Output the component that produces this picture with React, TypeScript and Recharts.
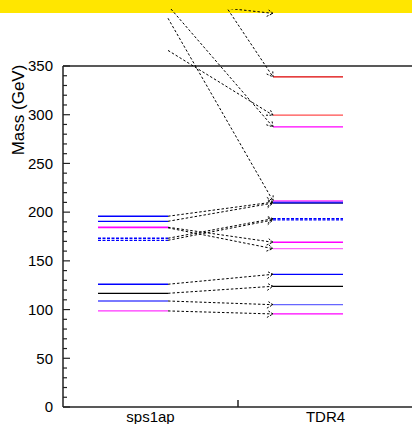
import React from 'react';
import { LineChart, Line, XAxis, YAxis, ReferenceLine } from 'recharts';

// columnas y ticks
const columns = ['sps1ap', 'TDR4'];
const massLabels = [0, 50, 100, 150, 200, 250, 300, 350];
const minorStep = 10;

// niveles del espectro, mismo indice = misma particula (flecha sps1ap -> TDR4)
const sps1apMasses = [98.6, 108.8, 116.7, 126.0, 171.1, 173.2, 183.9, 184.5, 190.6, 195.8, 366, 399, 412, 416, 500];
const sps1apColors = ['#ff33ff', '#4d4dff', '#000000', '#0000ff', '#0000ff', '#0000ff', '#ff80ff', '#ff00ff', '#0000ff', '#0000ff', '#ff0000', '#ff00ff', '#ff00ff', '#000000', '#cc0000'];
const sps1apDashed = [false, false, false, false, true, true, false, false, false, false, false, false, false, false, false];

const tdr4Masses = [95.5, 105.0, 123.9, 136.2, 192.0, 193.3, 162.5, 169.1, 209.3, 210.3, 299.5, 211.6, 287.5, 404, 338.8];
const tdr4Colors = ['#ff00ff', '#6666ff', '#000000', '#0000ff', '#0000ff', '#0000ff', '#ff66ff', '#ff00ff', '#000080', '#0000ff', '#ff4d4d', '#ff33ff', '#ff00ff', '#000000', '#dd0000'];
const tdr4Dashed = sps1apDashed;

// layout
const Y_MAX = 350;
const TOP_MASS = 408.5; // espacio por encima del marco donde aun se ven las flechas
const SPS_SPAN = [0.2, 0.6];
const TDR_SPAN = [1.2, 1.6];
const Y_GAP = 10;
const X_GAP = 4;
const FONT = '"Liberation Sans", Arial, Helvetica, sans-serif';
const AXIS = '#222';

const YTick = (props: any) => {
  const { x, y, payload } = props;
  const v = payload.value;
  const major = v % 50 === 0;
  const ax = x + Y_GAP;
  return (
    <g>
      <line x1={ax} x2={ax + (major ? 7 : 4)} y1={y} y2={y} stroke={AXIS} strokeWidth={1.2} />
      {major && massLabels.includes(v) && (
        <text x={x} y={y} dy="0.355em" textAnchor="end" fontSize={15} fill="#000" fontFamily={FONT}>
          {v}
        </text>
      )}
    </g>
  );
};

const XTick = (props: any) => {
  const { x, y, payload } = props;
  const v = payload.value;
  if (v === 1) {
    return <line x1={x} x2={x} y1={y - X_GAP} y2={y - X_GAP - 7} stroke={AXIS} strokeWidth={1.5} />;
  }
  return (
    <text x={x} y={y} dy="0.71em" textAnchor="middle" fontSize={15} fill="#000" fontFamily={FONT}>
      {columns[Math.floor(v)]}
    </text>
  );
};

const ArrowHead = (props: any) => {
  const { cx, cy, index, points } = props;
  if (index !== 1 || cx == null || cy == null) return <g key={`d-${index}`} />;
  let ang = 0;
  if (points && points.length > 1) {
    ang = Math.atan2(points[1].y - points[0].y, points[1].x - points[0].x);
  }
  const L = 7;
  const a = 0.55;
  const p1 = `${cx - L * Math.cos(ang - a)},${cy - L * Math.sin(ang - a)}`;
  const p2 = `${cx - L * Math.cos(ang + a)},${cy - L * Math.sin(ang + a)}`;
  return (
    <path
      key={`d-${index}`}
      d={`M${p1} L${cx},${cy} L${p2}`}
      fill="none"
      stroke="#000"
      strokeWidth={1}
      strokeDasharray="2 1.5"
    />
  );
};

const yLabel = () => (
  <text x={24} y={110} transform="rotate(-90 24 110)" textAnchor="middle" fontSize={17} fill="#000" fontFamily={FONT}>
    Mass (GeV)
  </text>
);

export default function App() {
  const minorTicks: number[] = [];
  for (let m = 0; m <= Y_MAX; m += minorStep) minorTicks.push(m);

  const levels: any[] = [];
  const arrows: any[] = [];

  sps1apMasses.forEach((m, i) => {
    if (m <= Y_MAX) {
      levels.push({
        key: `s${i}`,
        color: sps1apColors[i],
        dashed: sps1apDashed[i],
        data: [{ x: SPS_SPAN[0], y: m }, { x: SPS_SPAN[1], y: m }],
      });
    }
    arrows.push({
      key: `a${i}`,
      data: [{ x: SPS_SPAN[1], y: m }, { x: TDR_SPAN[0], y: tdr4Masses[i] }],
    });
  });
  tdr4Masses.forEach((m, i) => {
    if (m <= Y_MAX) {
      levels.push({
        key: `t${i}`,
        color: tdr4Colors[i],
        dashed: tdr4Dashed[i],
        data: [{ x: TDR_SPAN[0], y: m }, { x: TDR_SPAN[1], y: m }],
      });
    }
  });

  return (
    <div style={{ position: 'absolute', left: 0, top: 0, width: 412, height: 424, overflow: 'hidden', background: '#fff' }}>
      <div style={{ position: 'absolute', left: 0, top: 0, width: 412, height: 13, background: '#ffe600' }} />
      <div style={{ position: 'absolute', left: 0, top: 0 }}>
        <LineChart width={414} height={424} margin={{ top: 9, right: 1, bottom: 0, left: 0 }} style={{ fontFamily: FONT }}>
          <XAxis
            type="number"
            dataKey="x"
            domain={[0, 2]}
            ticks={[0.5, 1, 1.5]}
            interval={0}
            height={17}
            tickSize={0}
            tickMargin={X_GAP}
            tickLine={false}
            tick={XTick}
            axisLine={{ stroke: AXIS, strokeWidth: 1.5 }}
            allowDataOverflow
          />
          <YAxis
            type="number"
            dataKey="y"
            domain={[0, TOP_MASS]}
            ticks={minorTicks}
            interval={0}
            width={63}
            tickSize={0}
            tickMargin={Y_GAP}
            tickLine={false}
            axisLine={false}
            tick={YTick}
            allowDataOverflow
            label={yLabel}
          />
          <ReferenceLine y={Y_MAX} stroke={AXIS} strokeWidth={1.5} />
          <ReferenceLine segment={[{ x: 0, y: 0 }, { x: 0, y: Y_MAX }]} stroke={AXIS} strokeWidth={1.5} />
          {levels.map((l) => (
            <Line
              key={l.key}
              data={l.data}
              dataKey="y"
              type="linear"
              stroke={l.color}
              strokeWidth={1.3}
              strokeDasharray={l.dashed ? '3 1.5' : undefined}
              dot={false}
              activeDot={false}
              isAnimationActive={false}
            />
          ))}
          {arrows.map((a) => (
            <Line
              key={a.key}
              data={a.data}
              dataKey="y"
              type="linear"
              stroke="#000"
              strokeWidth={1}
              strokeDasharray="2.5 2"
              dot={ArrowHead}
              activeDot={false}
              isAnimationActive={false}
            />
          ))}
        </LineChart>
      </div>
    </div>
  );
}
